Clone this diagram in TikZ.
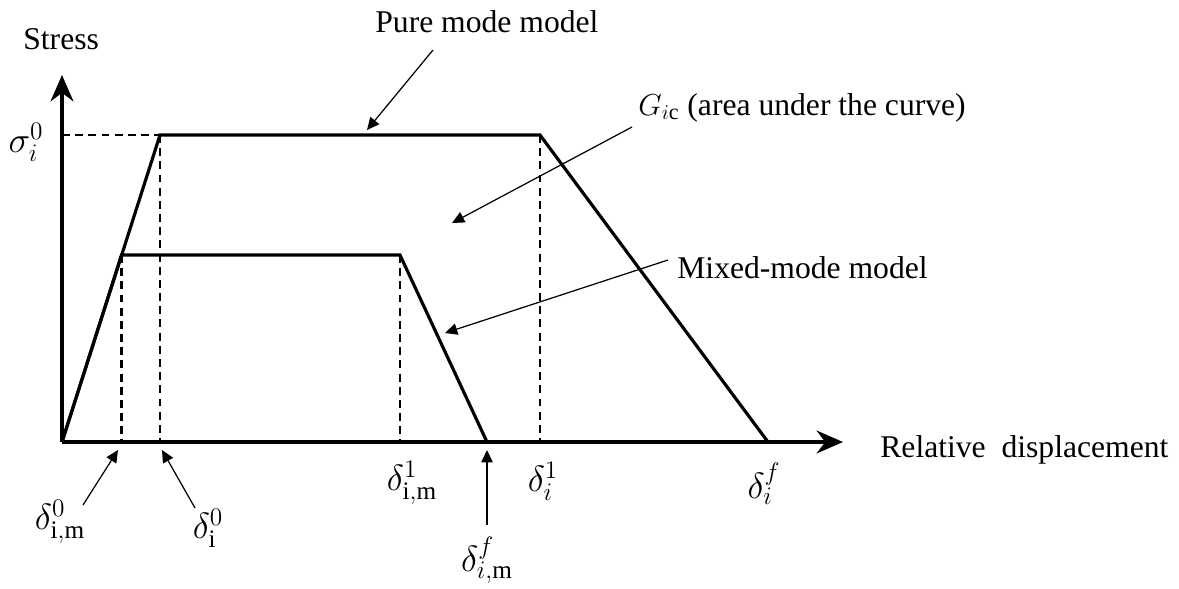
\documentclass[tikz,border=0pt]{standalone}
\usepackage{fontspec}
\setmainfont{Liberation Serif}
\usetikzlibrary{arrows.meta}

\tikzset{
  law/.style={line width=1.8pt, line join=miter},
  guide/.style={line width=1.3pt, dash pattern=on 4.5pt off 3pt},
  axis/.style={line width=1.8pt, -{Stealth[length=15pt,width=13pt]}},
  note/.style={line width=0.7pt, -{Triangle[length=7pt,width=6.5pt]}},
  lbl/.style={inner sep=0pt, font=\fontsize{18}{22}\selectfont},
  mlbl/.style={inner sep=0pt, font=\fontsize{20.5}{24}\selectfont},
}

\begin{document}
\begin{tikzpicture}[x=0.02cm,y=-0.02cm]
  \useasboundingbox (0,0) rectangle (1179,588);

  % corners of the two traction laws
  \coordinate (O) at (62,442);
  \coordinate (pA) at (160,135);
  \coordinate (pB) at (540,135);
  \coordinate (pC) at (768,442);
  \coordinate (mA) at (121.5,255);
  \coordinate (mB) at (400,255);
  \coordinate (mC) at (487,442);
  \coordinate (sig) at (62,135);
  \coordinate (yEnd) at (62,75);
  \coordinate (xEnd) at (843,442);

  % guide lines
  \draw[guide] (sig) -- (pA);
  \draw[guide] (pA) -- (pA |- O);
  \draw[guide] (mA) -- (mA |- O);
  \draw[guide] (mB) -- (mB |- O);
  \draw[guide] (pB) -- (pB |- O);

  % pure mode and mixed mode
  \draw[law] (O) -- (pA) -- (pB) -- (pC);
  \draw[law] (O) -- (mA) -- (mB) -- (mC);

  % axes
  \draw[axis] (O) -- (yEnd);
  \draw[axis] (O) -- (xEnd);

  \node[lbl, anchor=base west] (stress) at (23,50) {Stress};
  \node[lbl, anchor=base west] (reldisp) at (880,457) {Relative\ \ displacement};
  \node[mlbl] (sig0) at (26,142) {$\sigma_i^0$};

  \node[mlbl] (d0m) at (60,522) {$\delta^0_{\mathrm{i,m}}$};
  \node[mlbl] (d0) at (208,528) {$\delta^0_{\mathrm{i}}$};
  \node[mlbl] (d1m) at (412,483) {$\delta^1_{\mathrm{i,m}}$};
  \node[mlbl] (d1) at (543,481) {$\delta^1_i$};
  \node[mlbl] (dfm) at (487,560) {$\delta^f_{i,\mathrm{m}}$};
  \node[mlbl] (df) at (764,484) {$\delta^f_i$};

  \node[lbl, anchor=base west] (pure) at (375,33) {Pure mode model};
  \node[lbl, anchor=base west] (gic) at (638,115) {$G_{i\mathrm{c}}$ (area under the curve)};
  \node[lbl, anchor=base west] (mixed) at (677,278) {Mixed-mode model};

  % pointers
  \coordinate (pureT) at (433,50);
  \coordinate (pureH) at (367,130);
  \coordinate (gicT) at (632,127);
  \coordinate (gicH) at (452,223);
  \coordinate (mixT) at (668,260);
  \coordinate (mixH) at (445,333);
  \coordinate (d0mT) at (83,505);
  \coordinate (d0mH) at (118,450);
  \coordinate (d0T) at (195,508);
  \coordinate (d0H) at (162,450);
  \coordinate (dfmT) at (487,525);
  \coordinate (dfmH) at (487,450);
  \draw[note] (pureT) -- (pureH);
  \draw[note] (gicT) -- (gicH);
  \draw[note] (mixT) -- (mixH);
  \draw[note] (d0mT) -- (d0mH);
  \draw[note] (d0T) -- (d0H);
  \draw[note] (dfmT) -- (dfmH);
\end{tikzpicture}
\end{document}
